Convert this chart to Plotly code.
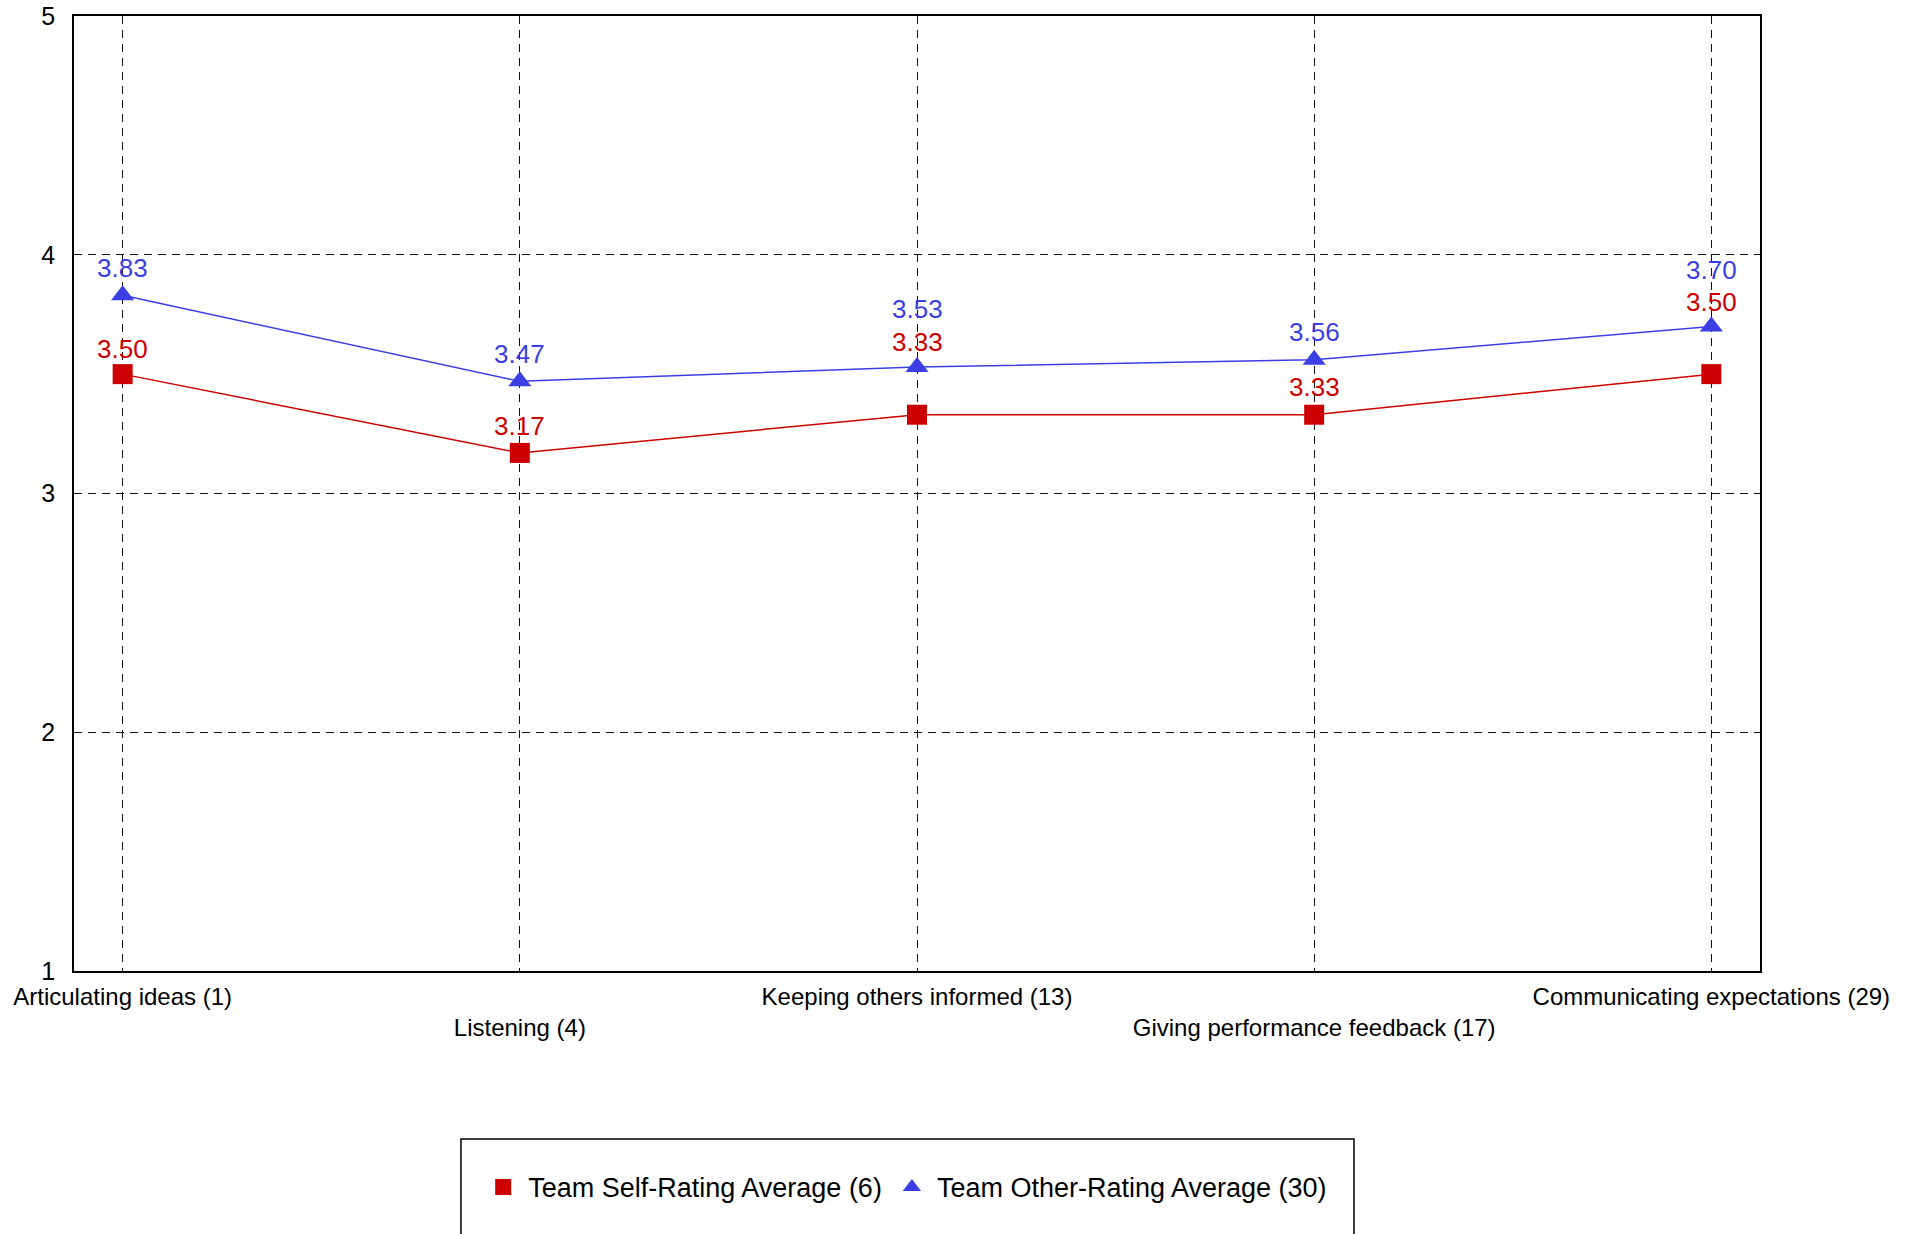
import plotly.graph_objects as go

# Competency categories (item numbers in parentheses)
categories = [
    "Articulating ideas (1)",
    "Listening (4)",
    "Keeping others informed (13)",
    "Giving performance feedback (17)",
    "Communicating expectations (29)",
]

self_name = "Team Self-Rating Average (6)"
other_name = "Team Other-Rating Average (30)"

self_rating = [3.50, 3.17, 3.33, 3.33, 3.50]
other_rating = [3.83, 3.47, 3.53, 3.56, 3.70]

y_ticks = [1, 2, 3, 4, 5]

RED = "#CC0000"
BLUE = "#3B3FE3"
FONT = "Liberation Sans, Arial, sans-serif"

# vertical pixel offsets of the value labels above their markers
self_label_shift = [25, 27, 73, 28, 72]
other_label_shift = [27, 27, 58, 28, 56]

fig = go.Figure()

series = [
    (self_name, self_rating, RED, "square", 20),
    (other_name, other_rating, BLUE, "triangle-up", 20),
]
for name, vals, col, sym, size in series:
    # connecting line (kept out of the legend so only the symbol shows there)
    fig.add_trace(go.Scatter(
        x=categories, y=vals, mode="lines", showlegend=False,
        line=dict(color=col, width=1.5), hoverinfo="skip",
    ))
    fig.add_trace(go.Scatter(
        x=categories, y=vals, name=name, mode="markers",
        marker=dict(symbol=sym, size=size, color=col),
    ))

annotations = []
for vals, shifts, col in ((self_rating, self_label_shift, RED),
                          (other_rating, other_label_shift, BLUE)):
    for c, v, s in zip(categories, vals, shifts):
        annotations.append(dict(
            x=c, y=v, xref="x", yref="y", text=f"{v:.2f}",
            showarrow=False, yanchor="middle", xanchor="center",
            yshift=s, font=dict(family=FONT, size=26, color=col),
        ))

# alternate the category labels over two rows
tick_text = [c if i % 2 == 0 else "<br>" + c for i, c in enumerate(categories)]

fig.update_layout(
    width=1915, height=1234,
    margin=dict(l=74, r=155, t=16, b=263, autoexpand=False),
    paper_bgcolor="white", plot_bgcolor="white",
    font=dict(family=FONT, color="black"),
    annotations=annotations,
    showlegend=True,
    legend=dict(
        orientation="h", x=0.493, xanchor="center",
        y=-0.2266, yanchor="middle",
        font=dict(family=FONT, size=27, color="black"),
        bgcolor="rgba(0,0,0,0)", itemsizing="trace", itemwidth=40,
    ),
    shapes=[dict(
        type="rect", xref="paper", yref="paper",
        x0=0.2295, x1=0.7592, y0=-0.32, y1=-0.1758,
        line=dict(color="black", width=1.5),
    )],
)

fig.update_xaxes(
    type="category", categoryorder="array", categoryarray=categories,
    range=[-0.1225, 4.1225],
    tickvals=categories, ticktext=tick_text,
    tickfont=dict(family=FONT, size=24, color="black"),
    ticklabelstandoff=3,
    showgrid=True, gridcolor="#111111", gridwidth=1, griddash="8px,6px",
    showline=True, linecolor="black", linewidth=1.5, mirror=True,
    ticks="", zeroline=False, automargin=False,
)
fig.update_yaxes(
    range=[1, 5], tickvals=y_ticks,
    tickfont=dict(family=FONT, size=25, color="black"),
    ticklabelstandoff=12,
    showgrid=True, gridcolor="#111111", gridwidth=1, griddash="8px,6px",
    showline=True, linecolor="black", linewidth=1.5, mirror=True,
    ticks="", zeroline=False, automargin=False,
)

fig.write_html("out.html")
